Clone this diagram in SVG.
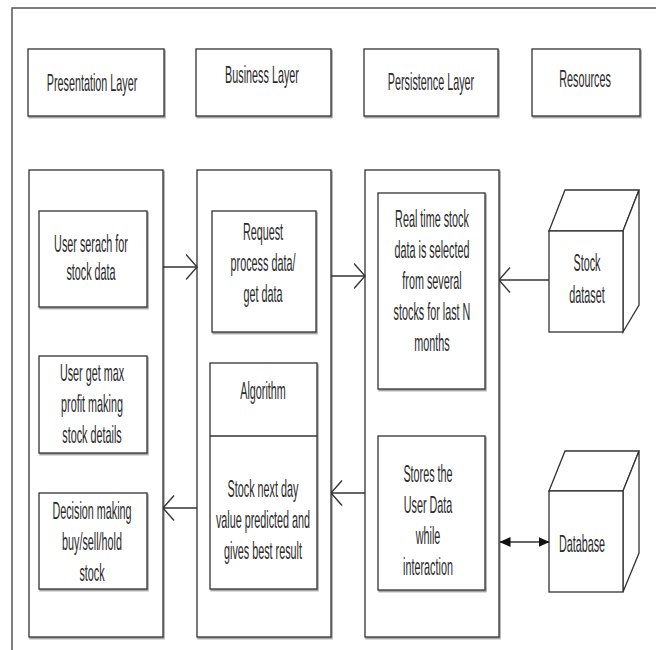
<svg xmlns="http://www.w3.org/2000/svg" width="656" height="650" viewBox="0 0 656 650">
<defs>
<filter id="sh" x="-5%" y="-5%" width="115%" height="115%">
<feDropShadow dx="1" dy="1.5" stdDeviation="0.7" flood-color="#777" flood-opacity="0.8"/>
</filter>
<marker id="open" viewBox="0 0 12 26" refX="11.5" refY="13" markerWidth="12" markerHeight="26" markerUnits="userSpaceOnUse" orient="auto">
<path d="M0.5,0.5 L11.5,13 L0.5,25.5" fill="none" stroke="#333" stroke-width="1.4"/>
</marker>
<marker id="solid" viewBox="0 0 11 10" refX="10.5" refY="5" markerWidth="11" markerHeight="10" markerUnits="userSpaceOnUse" orient="auto-start-reverse">
<path d="M0,0 L11,5 L0,10 Z" fill="#111"/>
</marker>
</defs>
<style>
.box{fill:#fff;stroke:#333;stroke-width:1.3;filter:url(#sh)}
.frame{fill:none;stroke:#555;stroke-width:1.5}
.cube{fill:#fff;stroke:#333;stroke-width:1.3;stroke-linejoin:miter}
.t{font-family:"Liberation Sans",Arial,sans-serif;font-size:24px;fill:#2a2a2a;text-anchor:middle}
.c{stroke:#333;stroke-width:1.5;fill:none}
</style>
<rect width="656" height="650" fill="#fff"/>
<path class="frame" d="M12,650 L12,8 L656,8"/>

<g id="hdr-presentation">
<rect class="box" x="28" y="49" width="136" height="67"/>
<text class="t" transform="translate(92,91) scale(0.45,1)">Presentation Layer</text>
</g>
<g id="hdr-business">
<rect class="box" x="196" y="49" width="135" height="67"/>
<text class="t" transform="translate(262,83) scale(0.45,1)">Business Layer</text>
</g>
<g id="hdr-persistence">
<rect class="box" x="364" y="49" width="134" height="67"/>
<text class="t" transform="translate(431,90) scale(0.45,1)">Persistence Layer</text>
</g>
<g id="hdr-resources">
<rect class="box" x="532" y="49" width="108" height="67"/>
<text class="t" transform="translate(585,87) scale(0.45,1)">Resources</text>
</g>

<g id="col-presentation">
<rect class="box" x="29" y="170" width="134" height="467"/>
</g>
<g id="col-business">
<rect class="box" x="197" y="170" width="134" height="467"/>
</g>
<g id="col-persistence">
<rect class="box" x="365" y="170" width="134" height="467"/>
</g>

<g id="n-search">
<rect class="box" x="39" y="211" width="108" height="96"/>
<text class="t" transform="translate(91,252) scale(0.45,1)">User serach for</text>
<text class="t" transform="translate(91,280) scale(0.45,1)">stock data</text>
</g>
<g id="n-maxprofit">
<rect class="box" x="39" y="356" width="108" height="97"/>
<text class="t" transform="translate(92,381) scale(0.45,1)">User get max</text>
<text class="t" transform="translate(92,412) scale(0.45,1)">profit making</text>
<text class="t" transform="translate(92,443) scale(0.45,1)">stock details</text>
</g>
<g id="n-decision">
<rect class="box" x="39" y="493" width="108" height="96"/>
<text class="t" transform="translate(92,519) scale(0.45,1)">Decision making</text>
<text class="t" transform="translate(92,550) scale(0.45,1)">buy/sell/hold</text>
<text class="t" transform="translate(92,581) scale(0.45,1)">stock</text>
</g>

<g id="n-request">
<rect class="box" x="212" y="211" width="104" height="121"/>
<text class="t" transform="translate(263,240) scale(0.45,1)">Request</text>
<text class="t" transform="translate(263,271) scale(0.45,1)">process data/</text>
<text class="t" transform="translate(263,302) scale(0.45,1)">get data</text>
</g>
<g id="n-algorithm">
<rect class="box" x="210" y="363" width="107" height="226"/>
<line x1="210" y1="436" x2="317" y2="436" stroke="#333" stroke-width="1.3"/>
<text class="t" transform="translate(263,399) scale(0.45,1)">Algorithm</text>
<text class="t" transform="translate(263,497) scale(0.45,1)">Stock next day</text>
<text class="t" transform="translate(263,528) scale(0.45,1)">value predicted and</text>
<text class="t" transform="translate(263,559) scale(0.45,1)">gives best result</text>
</g>

<g id="n-realtime">
<rect class="box" x="378" y="193" width="107" height="196"/>
<text class="t" transform="translate(432,227) scale(0.45,1)">Real time stock</text>
<text class="t" transform="translate(432,258) scale(0.45,1)">data is selected</text>
<text class="t" transform="translate(432,289) scale(0.45,1)">from several</text>
<text class="t" transform="translate(432,320) scale(0.45,1)">stocks for last N</text>
<text class="t" transform="translate(432,351) scale(0.45,1)">months</text>
</g>
<g id="n-stores">
<rect class="box" x="378" y="436" width="107" height="154"/>
<text class="t" transform="translate(428,482) scale(0.45,1)">Stores the</text>
<text class="t" transform="translate(428,513) scale(0.45,1)">User Data</text>
<text class="t" transform="translate(428,544) scale(0.45,1)">while</text>
<text class="t" transform="translate(428,575) scale(0.45,1)">interaction</text>
</g>

<g id="n-stockdataset">
<path class="cube" d="M549,231 L565,190 L639,190 L623,231 Z"/>
<path class="cube" d="M623,231 L639,190 L639,305 L623,332 Z"/>
<rect class="cube" x="549" y="231" width="74" height="101"/>
<text class="t" transform="translate(587,271) scale(0.45,1)">Stock</text>
<text class="t" transform="translate(587,303) scale(0.45,1)">dataset</text>
</g>
<g id="n-database">
<path class="cube" d="M549,491 L565,451 L639,451 L623,491 Z"/>
<path class="cube" d="M623,491 L639,451 L639,553 L623,592 Z"/>
<rect class="cube" x="549" y="491" width="74" height="101"/>
<text class="t" transform="translate(582,552) scale(0.45,1)">Database</text>
</g>

<g id="connectors">
<line class="c" x1="163" y1="267" x2="197" y2="267" marker-end="url(#open)"/>
<line class="c" x1="331" y1="276" x2="365" y2="276" marker-end="url(#open)"/>
<line class="c" x1="549" y1="280" x2="499" y2="280" marker-end="url(#open)"/>
<line class="c" x1="197" y1="508" x2="163" y2="508" marker-end="url(#open)"/>
<line class="c" x1="365" y1="493" x2="331" y2="493" marker-end="url(#open)"/>
<line class="c" x1="500" y1="542" x2="549" y2="542" marker-start="url(#solid)" marker-end="url(#solid)"/>
</g>
</svg>
